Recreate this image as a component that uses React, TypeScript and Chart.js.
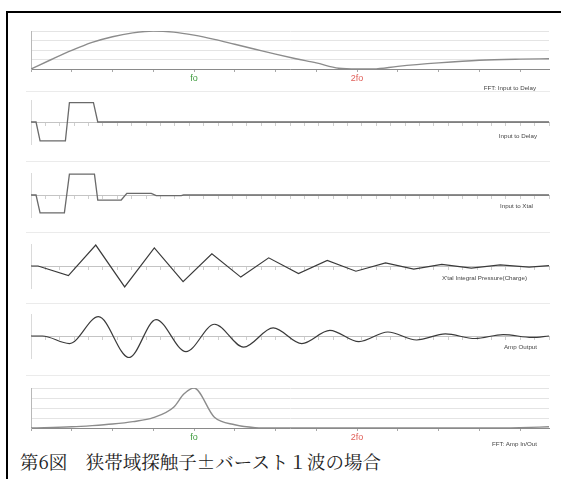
import React, { useEffect, useRef } from 'react';
import { Chart, registerables } from 'chart.js';
Chart.register(...registerables);

// ---------------- data ----------------
const FREQ_MAX = 12.71; // frequency axis, tick = 1 unit, fo = 4, 2fo = 8
const TIME_MAX = 36; // time axis, tick = 1 unit

const freqTickLabels: Record<number, string> = { 4: 'fo', 8: '2fo' };

// FFT: Input to Delay
const fftInFreq = [0, 0.5, 1, 1.5, 2, 2.5, 3, 3.5, 4, 4.5, 5, 5.5, 6, 6.5, 7, 7.55, 8, 8.4, 9, 10, 11, 12, 12.71];
const fftInMag = [0, 0.25, 0.49, 0.7, 0.85, 0.95, 1.0, 0.97, 0.89, 0.78, 0.65, 0.52, 0.39, 0.27, 0.16, 0.02, 0, 0, 0.07, 0.16, 0.23, 0.26, 0.27];

// FFT: Amp In/Out
const fftOutFreq = [0, 1, 1.5, 2, 2.5, 3, 3.5, 3.75, 4, 4.5, 5, 5.5, 6, 11.3, 12, 12.71];
const fftOutMag = [0, 0.03, 0.06, 0.1, 0.16, 0.26, 0.52, 0.85, 1.0, 0.27, 0.08, 0.01, 0, 0, 0.01, 0.03];

// Input to Delay
const delayTime = [0, 0.35, 0.63, 2.39, 2.67, 4.34, 4.64, 36];
const delayVal = [0, 0, -0.9, -0.9, 0.92, 0.92, 0, 0];

// Input to X'tal
const xtalInTime = [0, 0.35, 0.63, 2.32, 2.67, 4.41, 4.64, 6.27, 6.66, 8.36, 8.7, 10.44, 10.6, 36];
const xtalInVal = [0, 0, -0.85, -0.85, 1.0, 1.0, -0.24, -0.24, 0.08, 0.08, -0.03, -0.03, 0, 0];

// X'tal Integral Pressure(Charge)
const chargeTime = [0, 0.49, 2.6, 4.5, 6.51, 8.57, 10.57, 12.57, 14.58, 16.52, 18.59, 20.59, 22.58, 24.64, 26.6, 28.55, 30.6, 32.61, 34.62, 36];
const chargeVal = [0, 0, -0.46, 1.0, -1.0, 0.86, -0.75, 0.58, -0.53, 0.39, -0.36, 0.27, -0.25, 0.15, -0.15, 0.08, -0.1, 0.05, -0.05, 0.02];

// Amp Output
const ampTime = [0, 0.79, 2.67, 4.69, 6.81, 8.69, 10.77, 12.76, 14.78, 16.83, 18.82, 20.77, 22.79, 24.8, 26.8, 28.8, 30.86, 32.82, 34.82, 36];
const ampVal = [0, 0, -0.36, 0.92, -1.03, 0.78, -0.75, 0.56, -0.53, 0.39, -0.36, 0.27, -0.27, 0.19, -0.19, 0.1, -0.12, 0.07, -0.07, 0];

const caption = '第6図　狭帯域探触子±バースト１波の場合';

// ---------------- components ----------------
type PanelProps = {
  kind: 'fft' | 'time';
  xs: number[];
  ys: number[];
  left: number;
  top: number;
  width: number;
  height: number;
  color: string;
  lineWidth: number;
  curve: 'straight' | 'smooth';
};

function Panel(p: PanelProps) {
  const ref = useRef<HTMLCanvasElement>(null);
  useEffect(() => {
    const data = p.xs.map((x, i) => ({ x, y: p.ys[i] }));
    const dataset: any = {
      data,
      borderColor: p.color,
      borderWidth: p.lineWidth,
      pointRadius: 0,
      fill: false,
      tension: p.curve === 'smooth' ? 0.4 : 0,
      cubicInterpolationMode: p.curve === 'smooth' ? 'monotone' : 'default',
    };
    let scales: any;
    let padding: any;
    if (p.kind === 'fft') {
      padding = { left: 5, right: 7, top: 3, bottom: 0 };
      scales = {
        x: {
          type: 'linear',
          min: 0,
          max: FREQ_MAX,
          grid: { display: true, drawOnChartArea: false, drawTicks: true, tickLength: 3, color: '#a8a8a8' },
          border: { display: true, color: '#8a8a8a', width: 1 },
          ticks: {
            stepSize: 1,
            includeBounds: false,
            autoSkip: false,
            maxRotation: 0,
            padding: 1,
            font: { size: 9, family: 'Liberation Sans' },
            color: (ctx: any) => (ctx.tick && ctx.tick.value === 8 ? '#e0605a' : '#3f9c3f'),
            callback: (v: any) => freqTickLabels[Math.round(Number(v))] ?? '',
          },
          afterFit: (s: any) => {
            s.height = 20;
          },
        },
        y: {
          min: 0,
          max: 1,
          grid: { color: '#e4e4e4', drawTicks: false },
          border: { display: true, color: '#b8b8b8' },
          ticks: { display: false, stepSize: 0.25 },
          afterFit: (s: any) => {
            s.width = 0;
          },
        },
      };
    } else {
      padding = { left: 5, right: 7, top: 3, bottom: 3 };
      scales = {
        x: {
          type: 'linear',
          min: 0,
          max: TIME_MAX,
          position: { y: 0 },
          grid: { display: true, drawOnChartArea: false, drawTicks: true, tickLength: 3, color: '#cfcfcf' },
          border: { display: true, color: '#c4c4c4', width: 1 },
          ticks: { display: false, stepSize: 1, includeBounds: false, autoSkip: false },
          afterFit: (s: any) => {
            s.height = 0;
          },
        },
        y: {
          min: -1.05,
          max: 1.05,
          grid: { display: false },
          border: { display: true, color: '#dadada' },
          ticks: { display: false },
          afterFit: (s: any) => {
            s.width = 0;
          },
        },
      };
    }
    const chart = new Chart(ref.current as HTMLCanvasElement, {
      type: 'line',
      data: { datasets: [dataset] },
      options: {
        animation: false,
        responsive: false,
        maintainAspectRatio: false,
        events: [],
        layout: { padding },
        plugins: { legend: { display: false }, tooltip: { enabled: false }, title: { display: false } },
        scales,
      } as any,
    });
    return () => chart.destroy();
  }, []);
  return (
    <canvas
      ref={ref}
      width={p.width}
      height={p.height}
      style={{ position: 'absolute', left: p.left, top: p.top, width: p.width, height: p.height }}
    />
  );
}

function SmallLabel({ text, right, centerY }: { text: string; right: number; centerY: number }) {
  return (
    <div
      style={{
        position: 'absolute',
        right: 561 - right,
        top: centerY - 4,
        height: 8,
        lineHeight: '8px',
        fontSize: 6.2,
        fontFamily: '"Liberation Sans Narrow", "Liberation Sans", Arial, sans-serif',
        color: '#444',
        whiteSpace: 'nowrap',
      }}
    >
      {text}
    </div>
  );
}

function Separator({ y }: { y: number }) {
  return <div style={{ position: 'absolute', left: 26, top: y, width: 524, height: 1, background: '#ebebeb' }} />;
}

export default function App() {
  useEffect(() => {
    document.body.style.margin = '0';
  }, []);
  return (
    <div style={{ position: 'fixed', left: 0, top: 0, width: 561, height: 479, background: '#fff', overflow: 'hidden' }}>
      <div
        style={{
          position: 'absolute',
          left: 6,
          top: 11,
          width: 600,
          height: 600,
          borderTop: '2px solid #000',
          borderLeft: '2px solid #000',
        }}
      />
      <Separator y={91} />
      <Separator y={161} />
      <Separator y={232} />
      <Separator y={303} />
      <Separator y={375} />

      <Panel kind="fft" xs={fftInFreq} ys={fftInMag} left={26} top={28} width={530} height={61} color="#8c8c8c" lineWidth={1.4} curve="smooth" />
      <Panel kind="time" xs={delayTime} ys={delayVal} left={26} top={97} width={530} height={50} color="#6a6a6a" lineWidth={1.3} curve="straight" />
      <Panel kind="time" xs={xtalInTime} ys={xtalInVal} left={26} top={170} width={530} height={50} color="#6a6a6a" lineWidth={1.3} curve="straight" />
      <Panel kind="time" xs={chargeTime} ys={chargeVal} left={26} top={241} width={530} height={50} color="#3a3a3a" lineWidth={1.2} curve="straight" />
      <Panel kind="time" xs={ampTime} ys={ampVal} left={26} top={311} width={530} height={50} color="#3a3a3a" lineWidth={1.2} curve="smooth" />
      <Panel kind="fft" xs={fftOutFreq} ys={fftOutMag} left={26} top={385} width={530} height={63} color="#8c8c8c" lineWidth={1.4} curve="smooth" />

      <SmallLabel text="FFT: Input to Delay" right={536} centerY={88} />
      <SmallLabel text="Input to Delay" right={537} centerY={136} />
      <SmallLabel text="Input to Xtal" right={533} centerY={206} />
      <SmallLabel text="X'tal Integral Pressure(Charge)" right={527} centerY={278} />
      <SmallLabel text="Amp Output" right={537} centerY={347} />
      <SmallLabel text="FFT: Amp In/Out" right={537} centerY={444} />

      <div
        style={{
          position: 'absolute',
          left: 20,
          top: 450,
          fontSize: 18.5,
          lineHeight: '22px',
          fontFamily: '"Noto Serif CJK JP", "Noto Sans CJK JP", sans-serif',
          color: '#222',
          whiteSpace: 'nowrap',
        }}
      >
        {caption}
      </div>
    </div>
  );
}
